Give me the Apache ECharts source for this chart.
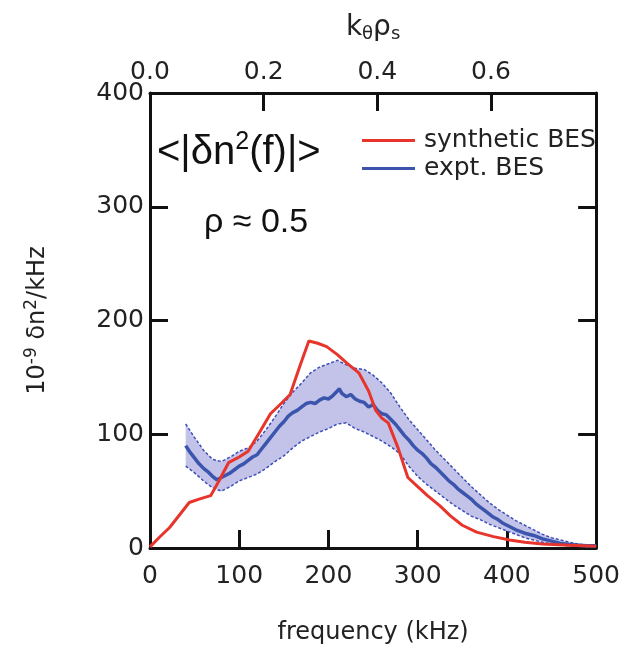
<!DOCTYPE html>
<html>
<head>
<meta charset="utf-8">
<script src="https://cdn.jsdelivr.net/npm/echarts@6/dist/echarts.min.js"></script>
<style>
html,body{margin:0;padding:0;background:#fff;}
#chart{width:623px;height:650px;}
</style>
</head>
<body>
<div id="chart"></div>
<script>
// ---- data ----
const redFreq = [0,10,22,33,44,55,68,78,88,100,110,123,135,147,157,168,178,188,198,210,220,234,245,253,260,267,278,289,300,311,325,337,350,366,385,403,420,440,470,500];
const redVal  = [1,9,18,29,40,43,46,60,75,80,85,102,118,127,135,160,182,180,177,170,163,154,138,121,114,110,88,62,54,46,37,28,20,14,10,7,5,3.5,2.5,1.5];

const expFreq = [40,45,50,55,60,65,70,75,80,85,90,95,100,105,110,115,120,125,130,135,140,145,150,155,160,165,170,175,180,185,190,195,200,205,210,212,215,220,225,230,235,240,245,250,255,260,265,270,275,280,285,290,295,300,305,310,315,320,325,330,335,340,345,350,355,360,365,370,375,380,385,390,395,400,410,420,430,440,450,460,470,480,490,500];
const expVal  = [90,84,79,74,70,67,63,60,62,64,66,69,72,74,77,80,82,87,92,97,102,107,111,116,119,121,124,127,128,127,130,132,131,134,138,140,136,133,135,131,129,128,124,126,121,118,117,113,109,104,99,95,90,86,83,79,74,71,67,63,59,56,52,49,46,43,39,36,33,30,27,25,22,20,16,13,11,8,6,4,3,2.5,2,2];

const bandFreq  = [40,50,60,70,80,90,100,110,120,130,140,150,160,170,180,190,200,210,220,230,240,250,260,270,280,290,300,310,320,330,340,350,360,370,380,390,400,410,420,430,440,450,460,470,480,490,500];
const bandUpper = [109,97,86,78,76,80,85,88,94,104,115,127,137,145,154,159,162,165,161,158,157,152,145,136,124,113,104,95,86,78,70,62,54,47,40,34,29,24,20,16,12,9,7,5,3.5,2.5,2];
const bandLower = [72,66,59,53,50,54,59,62,65,70,76,81,88,94,98,102,105,109,110,105,102,98,94,89,83,72,63,56,50,44,38,33,28,25,21,18,15,12,9,7,5,3.5,2.5,2,1.5,1,1];

const freqTicks = [0,100,200,300,400,500];
const kTicks = ['0.0','0.2','0.4','0.6'];
const yTicks = [0,100,200,300,400];

// ---- chart ----
const RED = '#e8352b', BLUE = '#3b55ad', FILL = '#c3c3ea', EDGE = '#3d4fb5';
const FONT = 'DejaVu Sans';
const AFONT = 'Liberation Sans';
const pairs = (xs, ys) => xs.map((x, i) => [x, ys[i]]);

const chart = echarts.init(document.getElementById('chart'), null, {renderer: 'canvas'});
const axisLine = {show: true, onZero: false, lineStyle: {color: '#111', width: 3}};
const tick = {show: true, inside: true, length: 18, lineStyle: {color: '#111', width: 3}};

chart.setOption({
  animation: false,
  textStyle: {fontFamily: FONT},
  grid: {left: 150, right: 18, top: 93, bottom: 101, containLabel: false},
  xAxis: [
    {
      type: 'value', position: 'bottom', min: 0, max: 500, interval: 100,
      axisLine: axisLine, axisTick: tick, splitLine: {show: false},
      axisLabel: {fontSize: 25, color: '#222', margin: 16, fontFamily: FONT,
        formatter: v => freqTicks.indexOf(v) >= 0 ? String(v) : ''},
      name: 'frequency (kHz)', nameLocation: 'middle', nameGap: 73,
      nameTextStyle: {fontSize: 24, color: '#222', fontFamily: FONT}
    },
    {
      type: 'value', position: 'top', min: 0, max: 0.785, interval: 0.2,
      axisLine: axisLine, axisTick: tick, splitLine: {show: false},
      axisLabel: {fontSize: 25, color: '#222', margin: 8, fontFamily: FONT, showMaxLabel: false,
        formatter: v => { const s = v.toFixed(1); return kTicks.indexOf(s) >= 0 ? s : ''; }},
      name: '{b|k}{s|θ}{b|ρ}{s|s}', nameLocation: 'middle', nameGap: 50,
      nameTextStyle: {rich: {
        b: {fontSize: 28, color: '#222', fontFamily: FONT},
        s: {fontSize: 18, color: '#222', fontFamily: FONT, padding: [12, 0, 0, 0]}
      }}
    }
  ],
  yAxis: [
    {
      type: 'value', position: 'left', min: 0, max: 400, interval: 100,
      axisLine: axisLine, axisTick: tick, splitLine: {show: false},
      axisLabel: {fontSize: 25, color: '#222', margin: 6, fontFamily: FONT,
        formatter: v => yTicks.indexOf(v) >= 0 ? String(v) : ''},
      name: '{n|10}{sup|-9}{n| δn}{sup|2}{n|/kHz}', nameLocation: 'middle', nameGap: 98, nameRotate: 90,
      nameTextStyle: {rich: {
        n: {fontSize: 24, color: '#222', fontFamily: FONT},
        sup: {fontSize: 17, color: '#222', fontFamily: FONT, padding: [0, 0, 12, 0]}
      }}
    },
    {
      type: 'value', position: 'right', min: 0, max: 400, interval: 100,
      axisLine: axisLine, axisTick: tick, splitLine: {show: false},
      axisLabel: {show: false}
    }
  ],
  legend: {
    data: ['synthetic BES', 'expt. BES'],
    orient: 'vertical', left: 357, top: 123, itemGap: 3,
    icon: 'rect', itemWidth: 53, itemHeight: 3,
    textStyle: {fontSize: 25, color: '#222', fontFamily: FONT, padding: [0, 0, 0, 4]}
  },
  graphic: [
    {
      type: 'text', left: 157, top: 130,
      style: {
        text: '{a|<|δn}{s|2}{a|(f)|>}',
        rich: {
          a: {fontSize: 40, fill: '#111', fontFamily: AFONT},
          s: {fontSize: 25, fill: '#111', fontFamily: AFONT, padding: [0, 0, 20, 0]}
        }
      }
    },
    {
      type: 'text', left: 204, top: 206,
      style: {text: 'ρ ≈ 0.5', fontSize: 34, fill: '#111', fontFamily: AFONT}
    }
  ],
  series: [
    {
      name: 'band', type: 'custom', z: 1, silent: true,
      data: pairs(bandFreq, bandUpper),
      renderItem: function (params, api) {
        if (params.dataIndex !== 0) return null;
        const up = bandFreq.map((f, i) => api.coord([f, bandUpper[i]]));
        const lo = bandFreq.map((f, i) => api.coord([f, bandLower[i]]));
        const poly = up.concat(lo.slice().reverse());
        const dash = {stroke: EDGE, lineWidth: 1.5, lineDash: [3, 2], fill: null};
        return {
          type: 'group',
          children: [
            {type: 'polygon', shape: {points: poly}, style: {fill: FILL, stroke: null}},
            {type: 'polyline', shape: {points: up}, style: dash},
            {type: 'polyline', shape: {points: lo}, style: dash}
          ]
        };
      }
    },
    {
      name: 'expt. BES', type: 'line', data: pairs(expFreq, expVal),
      showSymbol: false, symbol: 'none', z: 3, color: BLUE,
      lineStyle: {color: BLUE, width: 3.5}
    },
    {
      name: 'synthetic BES', type: 'line', data: pairs(redFreq, redVal),
      showSymbol: false, symbol: 'none', z: 4, color: RED,
      lineStyle: {color: RED, width: 3}
    }
  ]
});
</script>
</body>
</html>
